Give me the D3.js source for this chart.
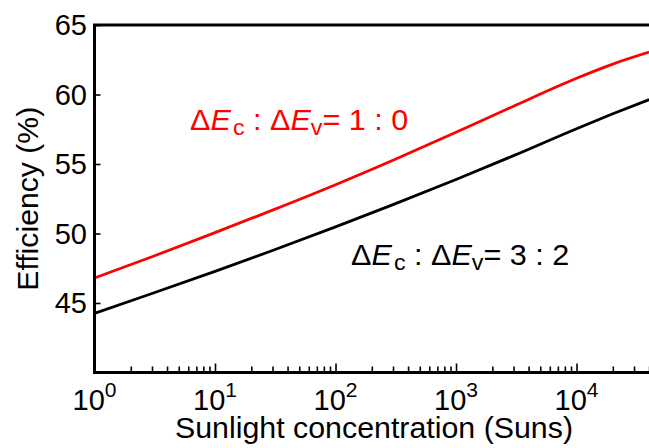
<!DOCTYPE html>
<html>
<head>
<meta charset="utf-8">
<script src="https://cdn.jsdelivr.net/npm/d3@7"></script>
<style>
  body { margin: 0; background: #fff; }
  text { font-family: "Liberation Sans", Arial, Helvetica, sans-serif; }
</style>
</head>
<body>
<div id="chart"></div>
<script>
// sunlight concentration (Suns) and efficiency (%)
var suns     = [1, 3, 10, 30, 100, 300, 1000, 3000, 10000, 20000, 40000];
var eff_10   = [46.8, 48.33, 50.06, 51.68, 53.51, 55.27, 57.28, 59.16, 61.17, 62.19, 63.05];
var eff_32   = [44.25, 45.68, 47.28, 48.78, 50.48, 52.08, 53.88, 55.6, 57.54, 58.61, 59.63];
var yTicks   = [45, 50, 55, 60, 65];
var xMajor   = [1, 10, 100, 1000, 10000];
var xMajorExp = ["0", "1", "2", "3", "4"];
var xMinor   = [2,3,4,5,6,7,8,9, 20,30,40,50,60,70,80,90, 200,300,400,500,600,700,800,900,
                2000,3000,4000,5000,6000,7000,8000,9000, 20000,30000,40000];

var svg_width = 649;
var svg_height = 448;
var pl = 94.5, pr = 649.5, pt = 25, pb = 372.5;
var fs = 29;

var mysvg = d3.select("#chart")
  .append("svg")
  .attr("width", svg_width)
  .attr("height", svg_height);

var x = d3.scaleLog().domain([1, 40300]).range([pl, pr]);
var y = d3.scaleLinear().domain([40, 65]).range([pb, pt]);

// minor and major ticks, pointing inward
var xmin = mysvg.append("g")
  .attr("transform", "translate(0," + pb + ")")
  .call(d3.axisBottom(x).tickValues(xMinor).tickSize(-6).tickFormat(""));
xmin.select(".domain").remove();
xmin.selectAll("line").attr("stroke", "#000").attr("stroke-width", 1.6);

var xax = mysvg.append("g")
  .attr("transform", "translate(0," + pb + ")")
  .call(d3.axisBottom(x).tickValues(xMajor).tickSize(-9).tickFormat(""));
xax.select(".domain").remove();
xax.selectAll("line").attr("stroke", "#000").attr("stroke-width", 1.6);

var yax = mysvg.append("g")
  .attr("transform", "translate(" + pl + ",0)")
  .call(d3.axisLeft(y).tickValues(yTicks).tickSize(-6).tickFormat(""));
yax.select(".domain").remove();
yax.selectAll("line").attr("stroke", "#000").attr("stroke-width", 1.6);

// tick labels
mysvg.selectAll("text.ylab")
  .data(yTicks)
  .enter()
  .append("text")
  .attr("class", "ylab")
  .attr("x", 87)
  .attr("y", function(d){ return y(d); })
  .attr("dy", "0.36em")
  .attr("text-anchor", "end")
  .attr("font-size", fs)
  .text(function(d){ return d; });

var xl = mysvg.selectAll("text.xlab")
  .data(xMajor)
  .enter()
  .append("text")
  .attr("class", "xlab")
  .attr("x", function(d){ return x(d); })
  .attr("y", 410)
  .attr("text-anchor", "middle")
  .attr("font-size", fs);
xl.append("tspan").text("10");
xl.append("tspan")
  .attr("dy", -13)
  .attr("font-size", 21)
  .text(function(d, i){ return xMajorExp[i]; });

// curves
var line = d3.line()
  .x(function(d){ return x(d[0]); })
  .y(function(d){ return y(d[1]); })
  .curve(d3.curveMonotoneX);

mysvg.append("path")
  .datum(suns.map(function(s, i){ return [s, eff_32[i]]; }))
  .attr("d", line)
  .attr("fill", "none")
  .attr("stroke", "#000")
  .attr("stroke-width", 2.8);

mysvg.append("path")
  .datum(suns.map(function(s, i){ return [s, eff_10[i]]; }))
  .attr("d", line)
  .attr("fill", "none")
  .attr("stroke", "#ff0000")
  .attr("stroke-width", 2.8);

// frame
mysvg.append("path")
  .attr("d", "M" + pr + "," + pt + "H" + pl + "V" + pb + "H" + pr)
  .attr("fill", "none")
  .attr("stroke", "#000")
  .attr("stroke-width", 3);

// axis titles
mysvg.append("text")
  .attr("x", (pl + pr) / 2 + 2)
  .attr("y", 438)
  .attr("text-anchor", "middle")
  .attr("font-size", fs)
  .attr("textLength", 398)
  .attr("lengthAdjust", "spacingAndGlyphs")
  .text("Sunlight concentration (Suns)");

mysvg.append("text")
  .attr("transform", "translate(38," + (pt + pb) / 2 + ") rotate(-90)")
  .attr("text-anchor", "middle")
  .attr("font-size", fs)
  .attr("textLength", 184)
  .attr("lengthAdjust", "spacingAndGlyphs")
  .text("Efficiency (%)");

// ratio annotations
function ratioLabel(tx, ty, col, a, b) {
  var t = mysvg.append("g")
    .attr("transform", "translate(" + tx + "," + ty + ") scale(1.055,1)")
    .append("text")
    .attr("fill", col)
    .attr("font-size", fs);
  t.append("tspan").text("\u0394");
  t.append("tspan").attr("font-style", "italic").text("E");
  t.append("tspan").attr("font-size", 22).attr("dy", 5).attr("dx", 2).text("c");
  t.append("tspan").attr("dy", -5).text(" : \u0394");
  t.append("tspan").attr("font-style", "italic").text("E");
  t.append("tspan").attr("font-size", 22).attr("dy", 5).text("v");
  t.append("tspan").attr("dy", -5).text("= " + a + " : " + b);
}
ratioLabel(190, 130, "#ff0000", 1, 0);
ratioLabel(351, 265, "#000", 3, 2);
</script>
</body>
</html>
